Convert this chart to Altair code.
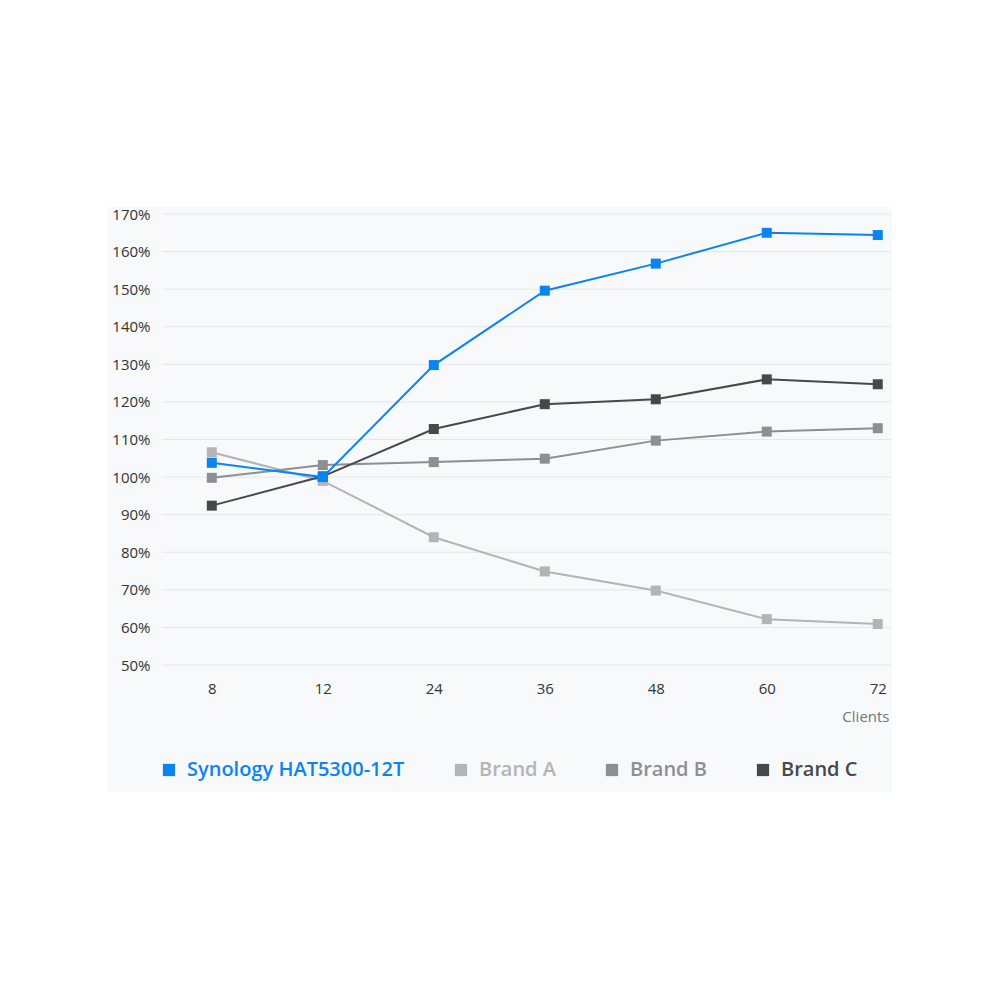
import altair as alt
import pandas as pd

clients = ["8", "12", "24", "36", "48", "60", "72"]
series_names = ["Synology HAT5300-12T", "Brand A", "Brand B", "Brand C"]
series_colors = ["#0a84f0", "#b4b4b4", "#8e8e93", "#48484a"]
y_ticks = [50, 60, 70, 80, 90, 100, 110, 120, 130, 140, 150, 160, 170]

synology = [103.8, 100.0, 129.8, 149.6, 156.8, 165.0, 164.4]
brand_a = [106.6, 99.0, 84.0, 74.9, 69.8, 62.2, 60.9]
brand_b = [99.8, 103.2, 104.0, 104.9, 109.7, 112.1, 113.0]
brand_c = [92.4, 100.2, 112.8, 119.4, 120.7, 126.0, 124.7]

values_by_series = {
    "Brand A": brand_a,
    "Brand B": brand_b,
    "Brand C": brand_c,
    "Synology HAT5300-12T": synology,
}

rows = []
for name, vals in values_by_series.items():
    for c, v in zip(clients, vals):
        rows.append({"Clients": c, "Series": name, "Value": v})
df = pd.DataFrame(rows)
grid_df = pd.DataFrame({"Value": y_ticks})

FONT = "Open Sans"

x_enc = alt.X(
    "Clients:O",
    sort=clients,
    scale=alt.Scale(type="point", padding=0.284, align=0.79),
    axis=alt.Axis(
        title="Clients",
        titleAnchor="end",
        titleFont=FONT,
        titleFontSize=15,
        titleFontWeight="normal",
        titleColor="#777777",
        titlePadding=13,
        titleX=727,
        labelFont=FONT,
        labelFontSize=15,
        labelColor="#333333",
        labelAngle=0,
        labelPadding=16,
        labelOverlap=False,
        ticks=False,
        domain=False,
        grid=False,
        zindex=1,
    ),
)
y_scale = alt.Scale(domain=[50, 170], nice=False, zero=False)
y_enc = alt.Y(
    "Value:Q",
    scale=y_scale,
    axis=alt.Axis(
        title=None,
        values=y_ticks,
        labelExpr="datum.value + '%'",
        labelFont=FONT,
        labelFontSize=15,
        labelColor="#333333",
        labelPadding=12,
        labelOverlap=False,
        ticks=False,
        domain=False,
        grid=False,
        zindex=1,
    ),
)
color_scale = alt.Scale(domain=series_names, range=series_colors)

legend = alt.Legend(
    title=None,
    orient="none",
    legendX=-3,
    legendY=546,
    direction="horizontal",
    columns=4,
    columnPadding=46,
    symbolType="square",
    symbolSize=150,
    symbolStrokeWidth=0,
    symbolOpacity=1,
    labelFont=FONT,
    labelFontSize=20,
    labelFontWeight=600,
    labelOffset=8,
    labelLimit=400,
    labelColor={"expr": "scale('color', datum.value)"},
    zindex=2,
)

bg = alt.Chart(pd.DataFrame({"a": [0]})).mark_rect(color="#f7f9fa").encode(
    x=alt.value(-55), x2=alt.value(730), y=alt.value(-7), y2=alt.value(578)
)

grid = alt.Chart(grid_df).mark_rule(color="#e4e7ea", strokeWidth=1).encode(
    y=y_enc
)

lines = alt.Chart(df).mark_line(strokeWidth=2).encode(
    x=x_enc,
    y=y_enc,
    color=alt.Color("Series:N", scale=color_scale, legend=legend),
    detail="Series:N",
)

points = alt.Chart(df).mark_point(shape="square", filled=True, size=100, opacity=1).encode(
    x=x_enc,
    y=y_enc,
    color=alt.Color("Series:N", scale=color_scale, legend=legend),
)

chart = (
    alt.layer(bg, grid, lines, points)
    .properties(
        width=729,
        height=451,
        autosize=alt.AutoSizeParams(type="none"),
        padding={"left": 162, "top": 214, "right": 109, "bottom": 335},
        background="#ffffff",
    )
    .configure_view(strokeWidth=0)
)

chart.save("out.html", embed_options={"renderer": "svg", "actions": False})
